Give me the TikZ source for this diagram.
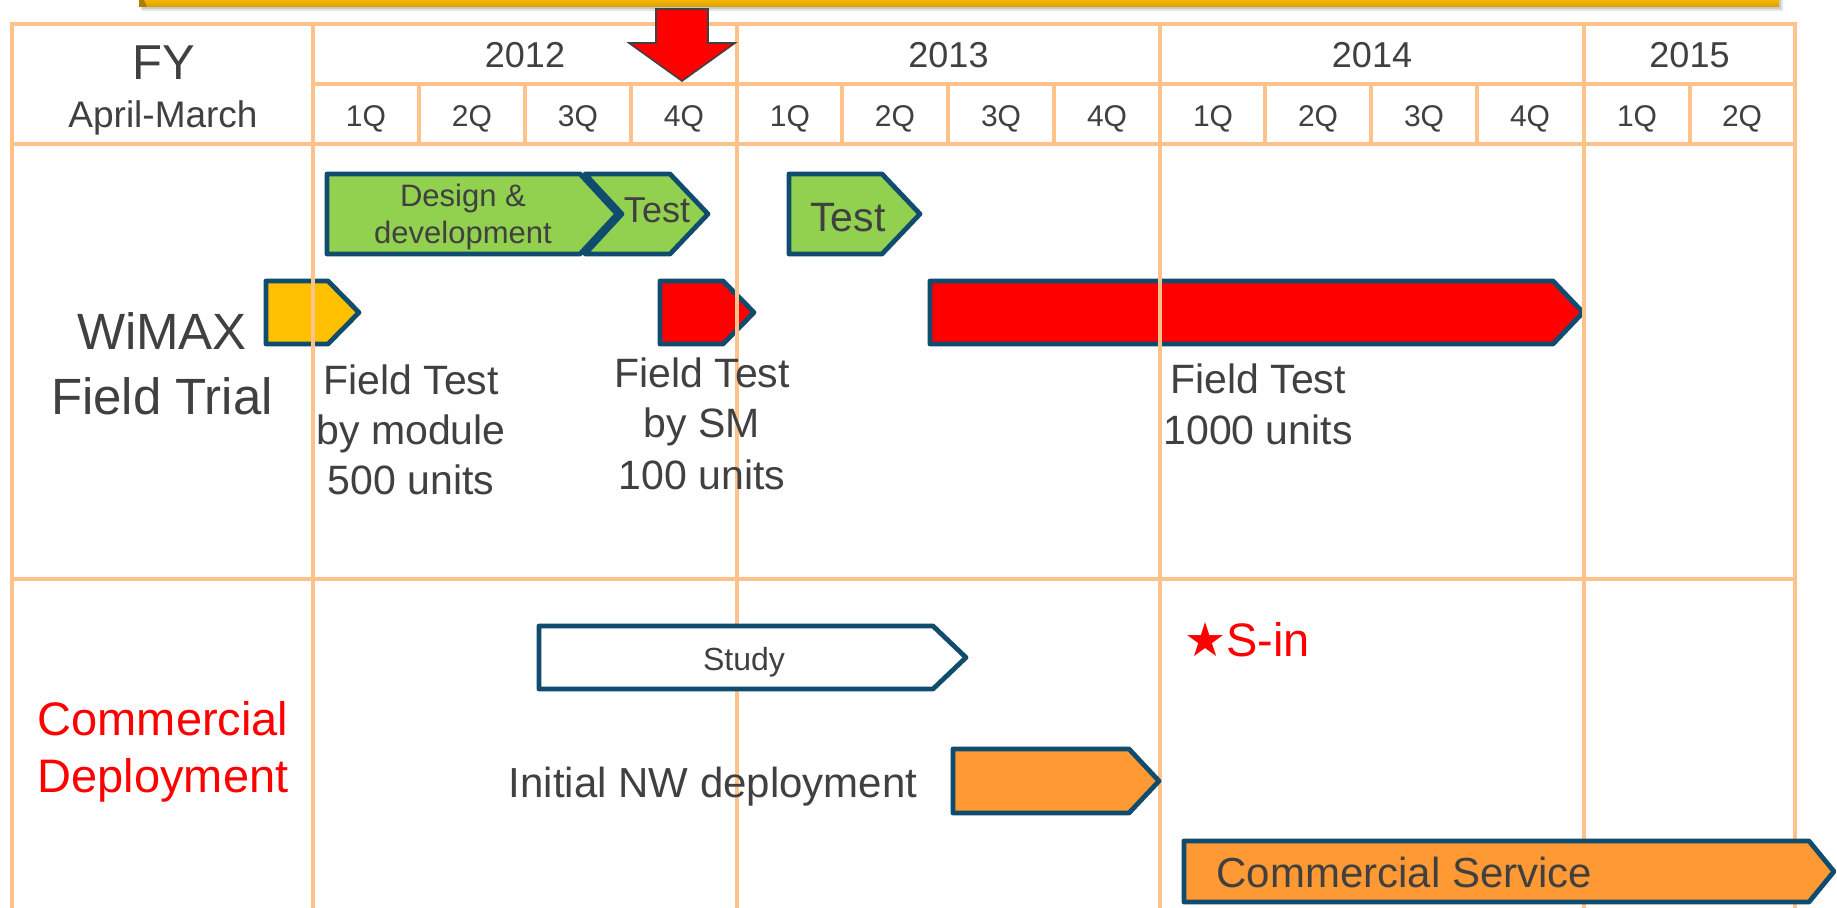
\documentclass[tikz,border=0pt]{standalone}
\usepackage{fontspec}
\setmainfont{Liberation Sans}
\newfontfamily\symfont{DejaVu Sans}

\definecolor{gridpeach}{RGB}{255,194,138}
\definecolor{ink}{RGB}{64,64,64}
\definecolor{barline}{RGB}{16,76,110}
\definecolor{bargreen}{RGB}{146,208,80}
\definecolor{baryellow}{RGB}{255,192,0}
\definecolor{barorange}{RGB}{255,153,51}
\definecolor{bannergold}{RGB}{255,192,0}
\definecolor{bannerdark}{RGB}{214,158,0}

% chevron bar: style, left x, shoulder x, tip x, top y, bottom y
\newcommand{\ganttchev}[6]{%
  \draw[#1] (#2,#5) -- (#3,#5) -- (#4,{(#5+#6)/2}) -- (#3,#6) -- (#2,#6) -- cycle;}

\tikzset{
  gridrule/.style={draw=gridpeach, line width=2.2pt, line cap=rect},
  bar/.style={draw=barline, line width=2.4pt, line join=round},
  lbl/.style={text=ink, inner sep=0pt, anchor=base},
  fs/.style={font=\fontsize{#1}{#1}\selectfont},
}

\begin{document}
\begin{tikzpicture}[x=0.5pt, y=-0.5pt]
  \useasboundingbox (0,0) rectangle (1837,908);
  \clip (0,0) rectangle (1837,908);
  \fill[white] (0,0) rectangle (1837,908);

  % ---- field-trial bars (grid rules run over them) ----
  \ganttchev{bar, fill=bargreen}{327}{580}{617}{174}{254}
  \draw[bar, fill=bargreen] (585,174) -- (670,174) -- (708,214) -- (670,254)
        -- (585,254) -- (622,214) -- cycle;
  \ganttchev{bar, fill=bargreen}{789}{882}{920}{174}{254}
  \ganttchev{bar, fill=baryellow}{266}{328}{359}{281}{344}
  \ganttchev{bar, fill=red}{660}{723}{754}{281}{344}
  \ganttchev{bar, fill=red}{930}{1553}{1583}{281}{344}

  % ---- table rules ----
  \draw[gridrule] (12,24) -- (1795,24);
  \draw[gridrule] (313,84) -- (1795,84);
  \draw[gridrule] (12,144) -- (1795,144);
  \draw[gridrule] (12,579) -- (1795,579);
  \foreach \x in {12,313,737,1160,1584,1795}
    \draw[gridrule] (\x,24) -- (\x,912);
  \foreach \x in {419,525,631,842,948,1054,1265,1371,1477,1690}
    \draw[gridrule] (\x,84) -- (\x,144);

  % ---- deployment bars ----
  \ganttchev{bar, fill=white}{539}{933}{966}{626}{689}
  \ganttchev{bar, fill=barorange}{953}{1129}{1159}{749}{813}
  \ganttchev{bar, fill=barorange}{1184}{1809}{1834}{841}{902}

  % ---- title banner and "now" marker ----
  \fill[black, opacity=0.10] (142,-10) rectangle (1783,11);
  \fill[black, opacity=0.12] (141,-10) rectangle (1781,9);
  \shade[top color=bannergold, bottom color=bannerdark, middle color=bannergold]
    (139,-12) rectangle (1779,7);
  \fill[bannerdark!80!black] (139,-12) -- (139,7) -- (147,7) -- cycle;
  \draw[draw=ink, line width=0.8pt, fill=red, line join=miter]
    (656,9) -- (708,9) -- (708,43) -- (735,43) -- (682,81) -- (629,43)
    -- (656,43) -- cycle;

  % ---- header texts ----
  \node[lbl, fs=24.5] (fy) at (164,80) {FY};
  \node[lbl, fs=18.5] (fyspan) at (163,128) {April-March};
  \node[lbl, fs=18] (y12) at (525,68) {2012};
  \node[lbl, fs=18] (y13) at (948.5,68) {2013};
  \node[lbl, fs=18] (y14) at (1372,68) {2014};
  \node[lbl, fs=18] (y15) at (1689.5,68) {2015};
  \foreach \x/\q [count=\i] in {366/1,472/2,578/3,684/4,790/1,895/2,1001/3,
      1107/4,1213/1,1318/2,1424/3,1530/4,1637/1,1742/2}
    \node[lbl, fs=15] (q\i) at (\x,127) {\q Q};

  % ---- row titles ----
  \node[lbl, fs=25.5] (rowa1) at (162,350) {WiMAX};
  \node[lbl, fs=25.5] (rowa2) at (162,415) {Field Trial};
  \node[lbl, fs=23.5, text=red] (rowb1) at (163,735) {Commercial};
  \node[lbl, fs=23.5, text=red] (rowb2) at (163,792) {Deployment};

  % ---- bar labels ----
  \node[lbl, fs=15.5] (dd1) at (463,207) {Design \&};
  \node[lbl, fs=15.5] (dd2) at (463,244) {development};
  \node[lbl, fs=18] (tst1) at (657,223) {Test};
  \node[lbl, fs=20.5] (tst2) at (848,232) {Test};

  \node[lbl, fs=20.5] (fma) at (411,395) {Field Test};
  \node[lbl, fs=20.5] (fmb) at (411,445) {by module};
  \node[lbl, fs=20.5] (fmc) at (411,495) {500 units};
  \node[lbl, fs=20.5] (fsa) at (702,388) {Field Test};
  \node[lbl, fs=20.5] (fsb) at (702,438) {by SM};
  \node[lbl, fs=20.5] (fsc) at (702,490) {100 units};
  \node[lbl, fs=20.5] (fka) at (1258,394) {Field Test};
  \node[lbl, fs=20.5] (fkb) at (1258,445) {1000 units};

  \node[lbl, fs=16] (study) at (744,670) {Study};
  \node[lbl, fs=21] (initnw) at (713,797) {Initial NW deployment};
  \node[lbl, fs=21, anchor=base west] (csvc) at (1216,887) {Commercial Service};
  \node[lbl, fs=23.5, text=red, anchor=base west] (sin) at (1184,657)
    {{\symfont ★}S-in};
\end{tikzpicture}
\end{document}
